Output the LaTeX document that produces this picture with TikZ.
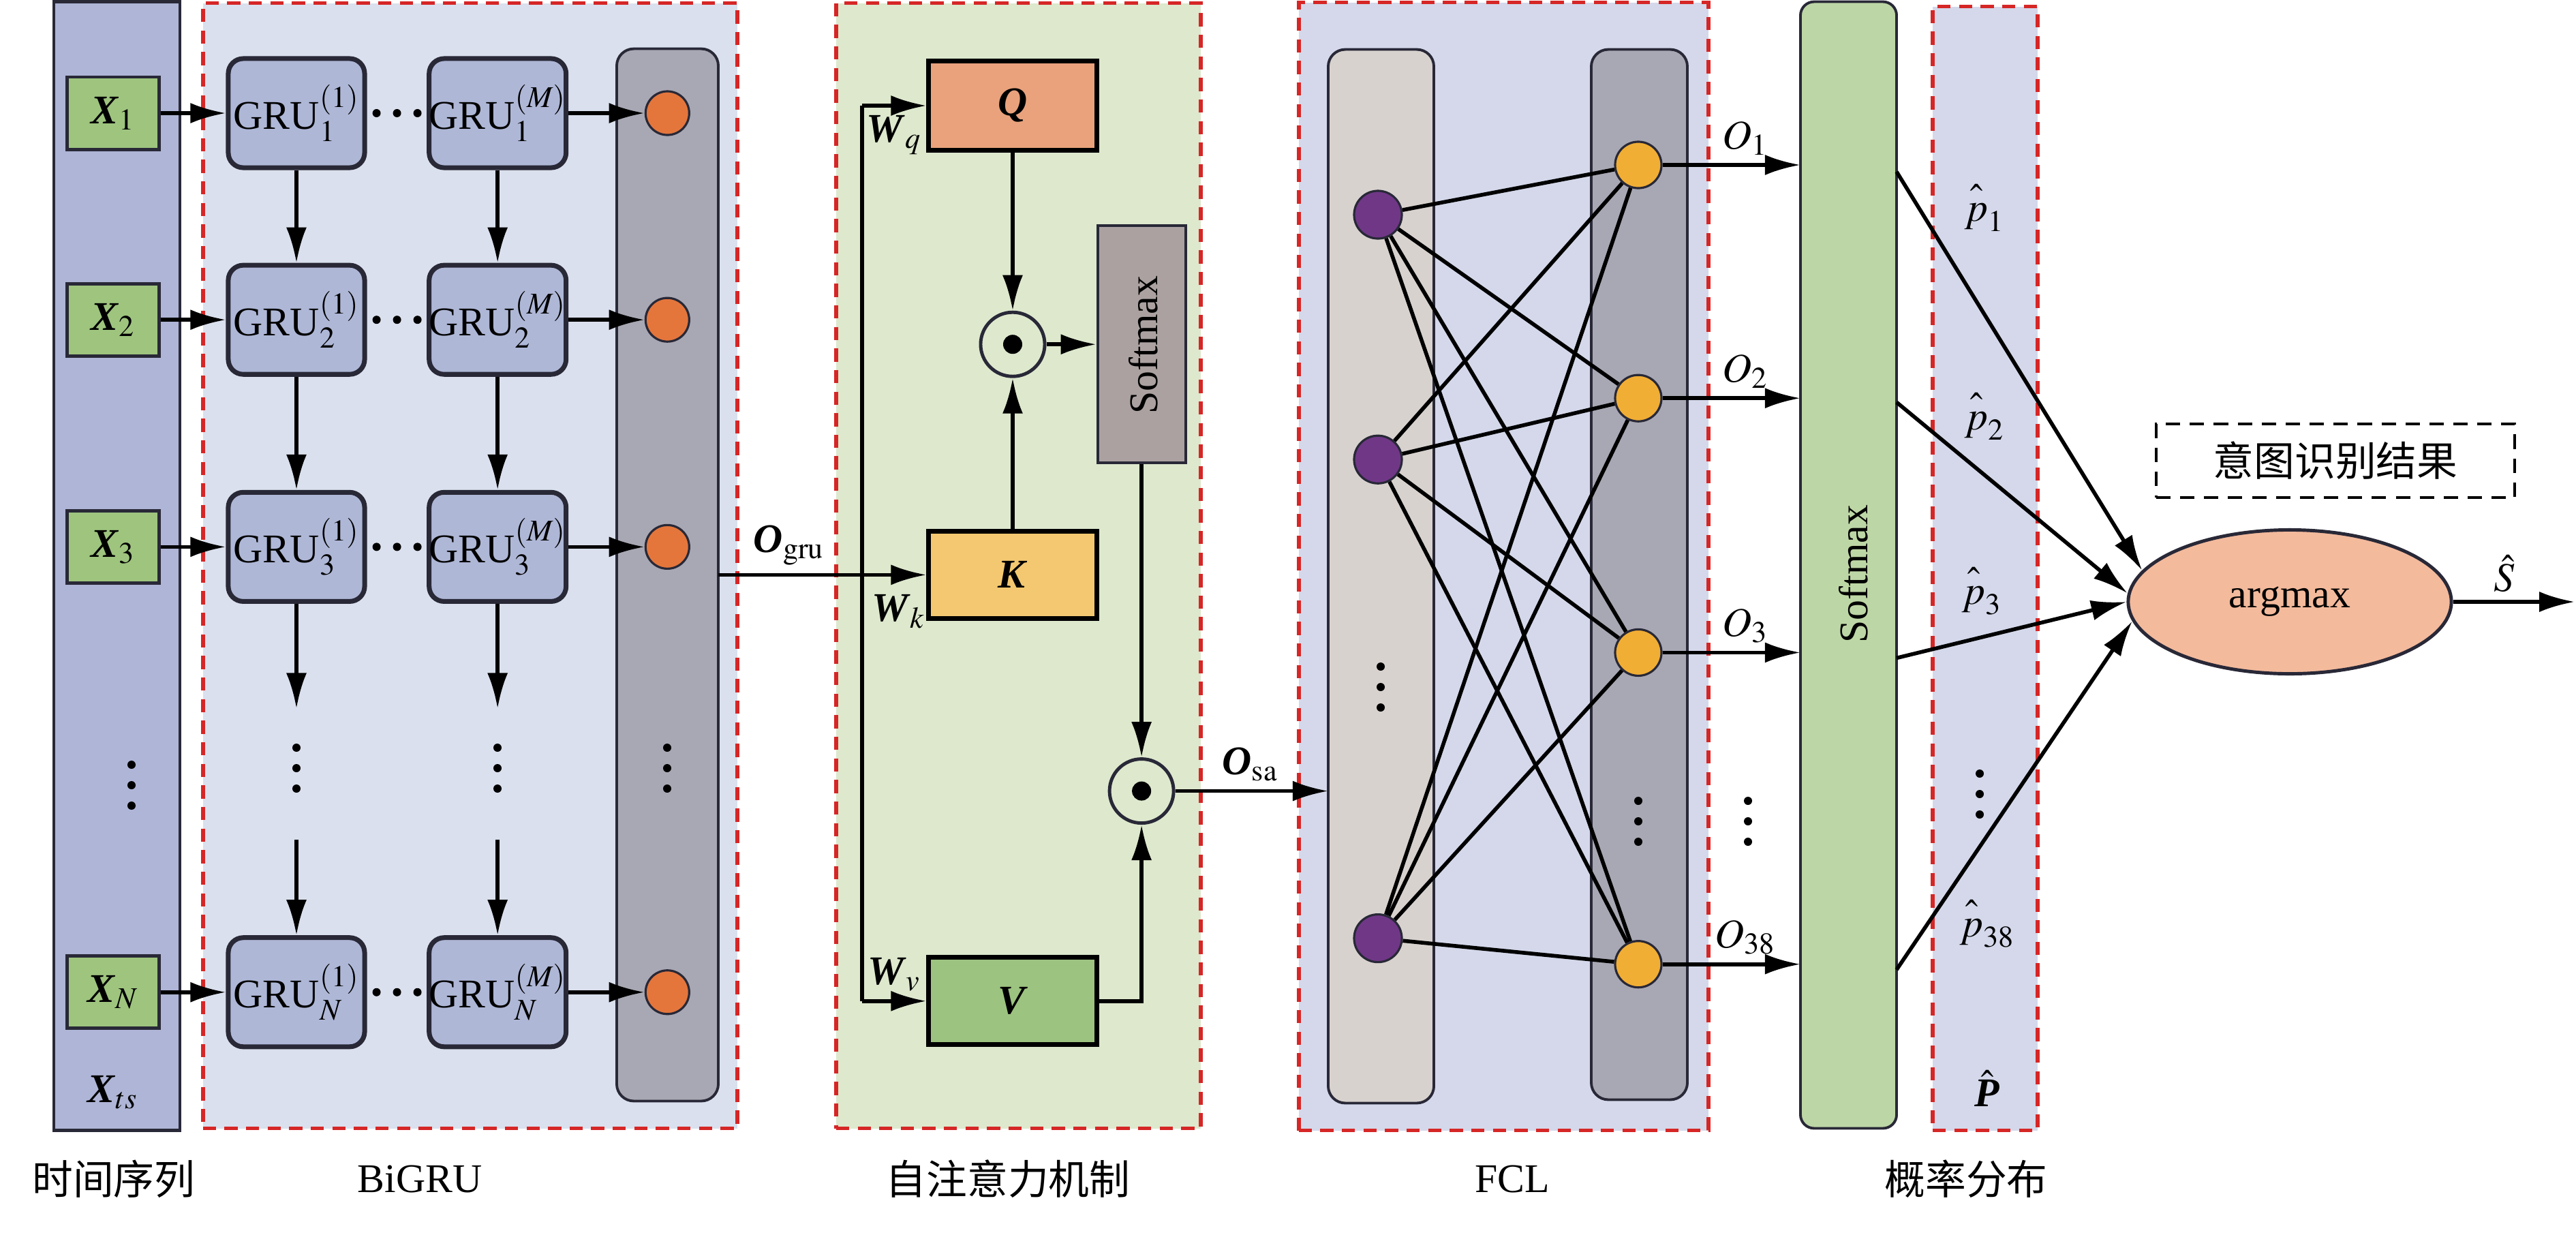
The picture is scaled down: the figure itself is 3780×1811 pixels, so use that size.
\documentclass[tikz,border=0pt]{standalone}
\usepackage{amsmath}
\usepackage{mathptmx}
\usepackage[no-math]{fontspec}
\setmainfont{Liberation Serif}
\newfontfamily\cjk{Noto Sans CJK SC}
\usetikzlibrary{arrows.meta, positioning, shapes}
\usetikzlibrary{calc}
\usepackage{xcolor}

\definecolor{tsblue}{RGB}{174,181,214}
\definecolor{grublue}{RGB}{218,224,237}
\definecolor{grubox}{RGB}{174,183,214}
\definecolor{colgray}{RGB}{168,168,180}
\definecolor{outorange}{RGB}{228,118,60}
\definecolor{xgreen}{RGB}{158,196,126}
\definecolor{attgreen}{RGB}{221,232,205}
\definecolor{qorange}{RGB}{233,162,124}
\definecolor{kyellow}{RGB}{243,200,112}
\definecolor{vgreen}{RGB}{157,195,128}
\definecolor{smgray}{RGB}{171,161,161}
\definecolor{fclblue}{RGB}{212,216,234}
\definecolor{colbeige}{RGB}{216,210,206}
\definecolor{hidpurple}{RGB}{112,55,135}
\definecolor{outyellow}{RGB}{241,174,52}
\definecolor{smgreen}{RGB}{189,214,165}
\definecolor{argpeach}{RGB}{243,186,156}
\definecolor{dashred}{RGB}{214,38,38}
\definecolor{edgedark}{RGB}{40,40,55}

\newcommand{\bivar}[1]{\textbf{\textit{#1}}}
\newcommand{\phat}[1]{\hat{\vphantom{b}p}_{#1}}

\begin{document}
\begin{tikzpicture}[x=0.01cm, y=-0.01cm, font=\fontsize{17}{20}\selectfont]
    \tikzstyle{region} = [rectangle, draw=dashred, line width=1.6pt,
        dash pattern=on 5.5pt off 3.5pt, inner sep=0, outer sep=0]
    \tikzstyle{layer} = [rectangle, draw=edgedark, line width=1.1pt,
        rounded corners=0.25cm, inner sep=0, outer sep=0]
    \tikzstyle{xbox} = [rectangle, draw=edgedark, line width=1.4pt, fill=xgreen,
        minimum width=1.35cm, minimum height=1.06cm, inner sep=0]
    \tikzstyle{gru} = [rectangle, draw=edgedark, line width=2pt, fill=grubox,
        rounded corners=0.22cm, minimum width=2cm, minimum height=1.6cm, inner sep=0]
    \tikzstyle{neuron} = [circle, draw=edgedark, line width=0.9pt,
        minimum size=0.68cm, inner sep=0]
    \tikzstyle{mat} = [rectangle, draw=black, line width=2pt,
        minimum width=2.46cm, minimum height=1.28cm, inner sep=0]
    \tikzstyle{prod} = [circle, draw=edgedark, line width=1.4pt, fill=attgreen,
        minimum size=0.94cm, inner sep=0,
        path picture={\fill [black] (path picture bounding box.center) circle (0.14cm);}]
    \tikzstyle{line} = [draw, line width=1.6pt]
    \tikzstyle{arrowline} = [draw, line width=1.6pt, -{Latex[length=5.2mm, width=3mm]}]
    \tikzstyle{caption} = [font=\cjk\fontsize{17}{20}\selectfont]

    \useasboundingbox (0,0) rectangle (3780,1811);
    % panels
    \node [region, fill=grublue, minimum width=7.84cm, minimum height=16.5cm] (bigru) at (690,830) {};
    \node [region, fill=attgreen, minimum width=5.35cm, minimum height=16.5cm] (selfatt) at (1494.5,830) {};
    \node [region, fill=fclblue, minimum width=6.01cm, minimum height=16.54cm] (fcl) at (2206.5,831) {};
    \node [region, fill=fclblue, minimum width=1.54cm, minimum height=16.48cm] (prob) at (2913,834) {};
    \node [rectangle, draw=edgedark, line width=1.2pt, fill=tsblue, inner sep=0,
        minimum width=1.85cm, minimum height=16.55cm] (tseries) at (171.5,830.5) {};
    \node [layer, fill=colgray, minimum width=1.49cm, minimum height=15.43cm] (gcol) at (979.5,843.5) {};
    \node [layer, fill=colbeige, minimum width=1.55cm, minimum height=15.45cm] (hid) at (2026.5,845.5) {};
    \node [layer, fill=colgray, minimum width=1.41cm, minimum height=15.4cm] (out) at (2405.5,843) {};
    \node [layer, fill=smgreen, rounded corners=0.2cm, minimum width=1.41cm, minimum height=16.52cm] (sm) at (2712.5,829) {};
    \node [rotate=90] (smtext) at (2720,842) {Softmax};
    %
    % BiGRU
    \node [gru] (g11) at (435,166) {GRU$^{(1)}_{1}$};
    \node [gru, right of=g11, node distance=2.95cm] (g1m) {GRU$^{(M)}_{1}$};
    \node [gru, below of=g11, node distance=3.03cm] (g21) {GRU$^{(1)}_{2}$};
    \node [gru, right of=g21, node distance=2.95cm] (g2m) {GRU$^{(M)}_{2}$};
    \node [gru, below of=g21, node distance=3.33cm] (g31) {GRU$^{(1)}_{3}$};
    \node [gru, right of=g31, node distance=2.95cm] (g3m) {GRU$^{(M)}_{3}$};
    \node [gru, below of=g31, node distance=6.53cm] (gn1) {GRU$^{(1)}_{N}$};
    \node [gru, right of=gn1, node distance=2.95cm] (gnm) {GRU$^{(M)}_{N}$};
    %
    \node [xbox, left of=g11, node distance=2.69cm] (x1) {$\bivar{X}_{1}$};
    \node [xbox, left of=g21, node distance=2.69cm] (x2) {$\bivar{X}_{2}$};
    \node [xbox, left of=g31, node distance=2.69cm] (x3) {$\bivar{X}_{3}$};
    \node [xbox, left of=gn1, node distance=2.69cm] (xn) {$\bivar{X}_{N}$};
    \node [below of=xn, node distance=1.47cm] (xts) {$\bivar{X}_{ts}$};
    %
    \node [neuron, fill=outorange, minimum size=0.64cm, right of=g1m, node distance=2.49cm] (o1) {};
    \node [neuron, fill=outorange, minimum size=0.64cm, right of=g2m, node distance=2.49cm] (o2) {};
    \node [neuron, fill=outorange, minimum size=0.64cm, right of=g3m, node distance=2.49cm] (o3) {};
    \node [neuron, fill=outorange, minimum size=0.64cm, right of=gnm, node distance=2.49cm] (on) {};
    %
    \foreach \i in {1,2,3,n} {
        \path [arrowline] (x\i) -- (g\i1);
        \path [arrowline] (g\i m) -- (o\i);
        \foreach \dx in {-30,0,30}
            \fill ($(g\i1)!0.5!(g\i m)+(\dx,0)$) circle (0.06cm);
    }
    \path [arrowline] (g11) -- (g21);
    \path [arrowline] (g21) -- (g31);
    \path [arrowline] (g1m) -- (g2m);
    \path [arrowline] (g2m) -- (g3m);
    \coordinate [below of=g31, node distance=2.37cm] (c1a);
    \coordinate [below of=g31, node distance=4.29cm] (c1b);
    \coordinate [below of=g3m, node distance=2.37cm] (cma);
    \coordinate [below of=g3m, node distance=4.29cm] (cmb);
    \path [arrowline] (g31) -- (c1a);
    \path [arrowline] (c1b) -- (gn1);
    \path [arrowline] (g3m) -- (cma);
    \path [arrowline] (cmb) -- (gnm);
    %
    % self attention
    \node [mat, fill=qorange, minimum height=1.3cm] (Q) at (1486,155) {$\bivar{Q}$};
    \node [mat, fill=kyellow, below of=Q, node distance=6.88cm] (K) {$\bivar{K}$};
    \node [mat, fill=vgreen, below of=K, node distance=6.25cm] (V) {$\bivar{V}$};
    \node [prod, below of=Q, node distance=3.5cm] (m1) {};
    \node [rectangle, draw=edgedark, line width=1.1pt, fill=smgray, inner sep=0,
        minimum width=1.29cm, minimum height=3.48cm, right of=m1, node distance=1.89cm] (smax) {};
    \node [rotate=90] (smaxtext) at (1678,506) {Softmax};
    \node [prod, below of=smax, node distance=6.55cm] (m2) {};
    \coordinate [left of=K, node distance=2.21cm] (bus);
    %
    \path [arrowline] (gcol.east |- K) -- (K) node [pos=0.34, above] {$\bivar{O}_{\mathrm{gru}}$};
    \path [line] (bus |- Q) -- (bus |- V);
    \path [arrowline] (bus |- Q) -- (Q) node [pos=0.5, below] {$\bivar{W}_{q}$};
    \path [arrowline] (bus |- V) -- (V) node [pos=0.5, above] {$\bivar{W}_{v}$};
    \node [below right=0.17cm and 0.02cm of bus] (wk) {$\bivar{W}_{k}$};
    \path [arrowline] (Q) -- (m1);
    \path [arrowline] (K) -- (m1);
    \path [arrowline] (m1) -- (smax);
    \path [arrowline] (smax) -- (m2);
    \path [arrowline] (V) -| (m2);
    \path [arrowline] (m2) -- (m2 -| hid.west) node [pos=0.49, above] {$\bivar{O}_{\mathrm{sa}}$};
    %
    % FCL
    \node [neuron, fill=hidpurple, minimum size=0.7cm] (h1) at (2022,315) {};
    \node [neuron, fill=hidpurple, minimum size=0.7cm, below of=h1, node distance=3.59cm] (h2) {};
    \node [neuron, fill=hidpurple, minimum size=0.7cm, below of=h2, node distance=7.02cm] (h3) {};
    \node [neuron, fill=outyellow] (y1) at (2404,242) {};
    \node [neuron, fill=outyellow, below of=y1, node distance=3.42cm] (y2) {};
    \node [neuron, fill=outyellow, below of=y2, node distance=3.73cm] (y3) {};
    \node [neuron, fill=outyellow, below of=y3, node distance=4.57cm] (y4) {};
    \foreach \i in {1,2,3} {
        \foreach \j in {1,...,4} {
            \path [line] (h\i) -- (y\j);
        }
    }
    \path [arrowline] (y1) -- (y1 -| sm.west) node [pos=0.6, above] {$O_{1}$};
    \path [arrowline] (y2) -- (y2 -| sm.west) node [pos=0.6, above] {$O_{2}$};
    \path [arrowline] (y3) -- (y3 -| sm.west) node [pos=0.6, above] {$O_{3}$};
    \path [arrowline] (y4) -- (y4 -| sm.west) node [pos=0.6, above] {$O_{38}$};
    %
    % dots
    \foreach \px/\py in {193/1152, 435/1127, 730/1127, 979/1127, 2026/1008,
                         2404/1205, 2565/1205, 2905/1165}
        \foreach \dy in {-30,0,30}
            \fill (\px,\py+\dy) circle (0.06cm);
    %
    % probabilities
    \node (p1) at (2912,305) {$\phat{1}$};
    \node (p2) at (2912,611) {$\phat{2}$};
    \node (p3) at (2908,867) {$\phat{3}$};
    \node (p38) at (2916,1355) {$\phat{38}$};
    \node (pvec) at (2916,1597) {$\hat{\bivar{P}}$};
    %
    \node [ellipse, draw=edgedark, line width=1.4pt, fill=argpeach, inner sep=0,
        minimum width=4.74cm, minimum height=2.11cm] (argmax) at (3360,883) {argmax};
    \path [arrowline] ([yshift=-0.1cm]y1 -| sm.east) -- (argmax.168);
    \path [arrowline] ([yshift=-0.06cm]y2 -| sm.east) -- (argmax.177);
    \path [arrowline] ([yshift=-0.08cm]y3 -| sm.east) -- (argmax.west);
    \path [arrowline] ([yshift=-0.08cm]y4 -| sm.east) -- (argmax.187);
    \coordinate [right of=argmax, node distance=4.18cm] (sout);
    \path [arrowline] (argmax) -- (sout) node [pos=0.42, above] {$\hat{S}$};
    \node [caption, draw, line width=1pt, dash pattern=on 6pt off 4pt,
        minimum width=5.26cm, minimum height=1.08cm] (result) at (3427,676) {意图识别结果};
    %
    % captions
    \node [caption] (cap1) at (167,1730) {时间序列};
    \node (cap2) at (616,1730) {BiGRU};
    \node [caption] (cap3) at (1479,1730) {自注意力机制};
    \node (cap4) at (2219,1730) {FCL};
    \node [caption] (cap5) at (2885,1730) {概率分布};
\end{tikzpicture}
\end{document}
